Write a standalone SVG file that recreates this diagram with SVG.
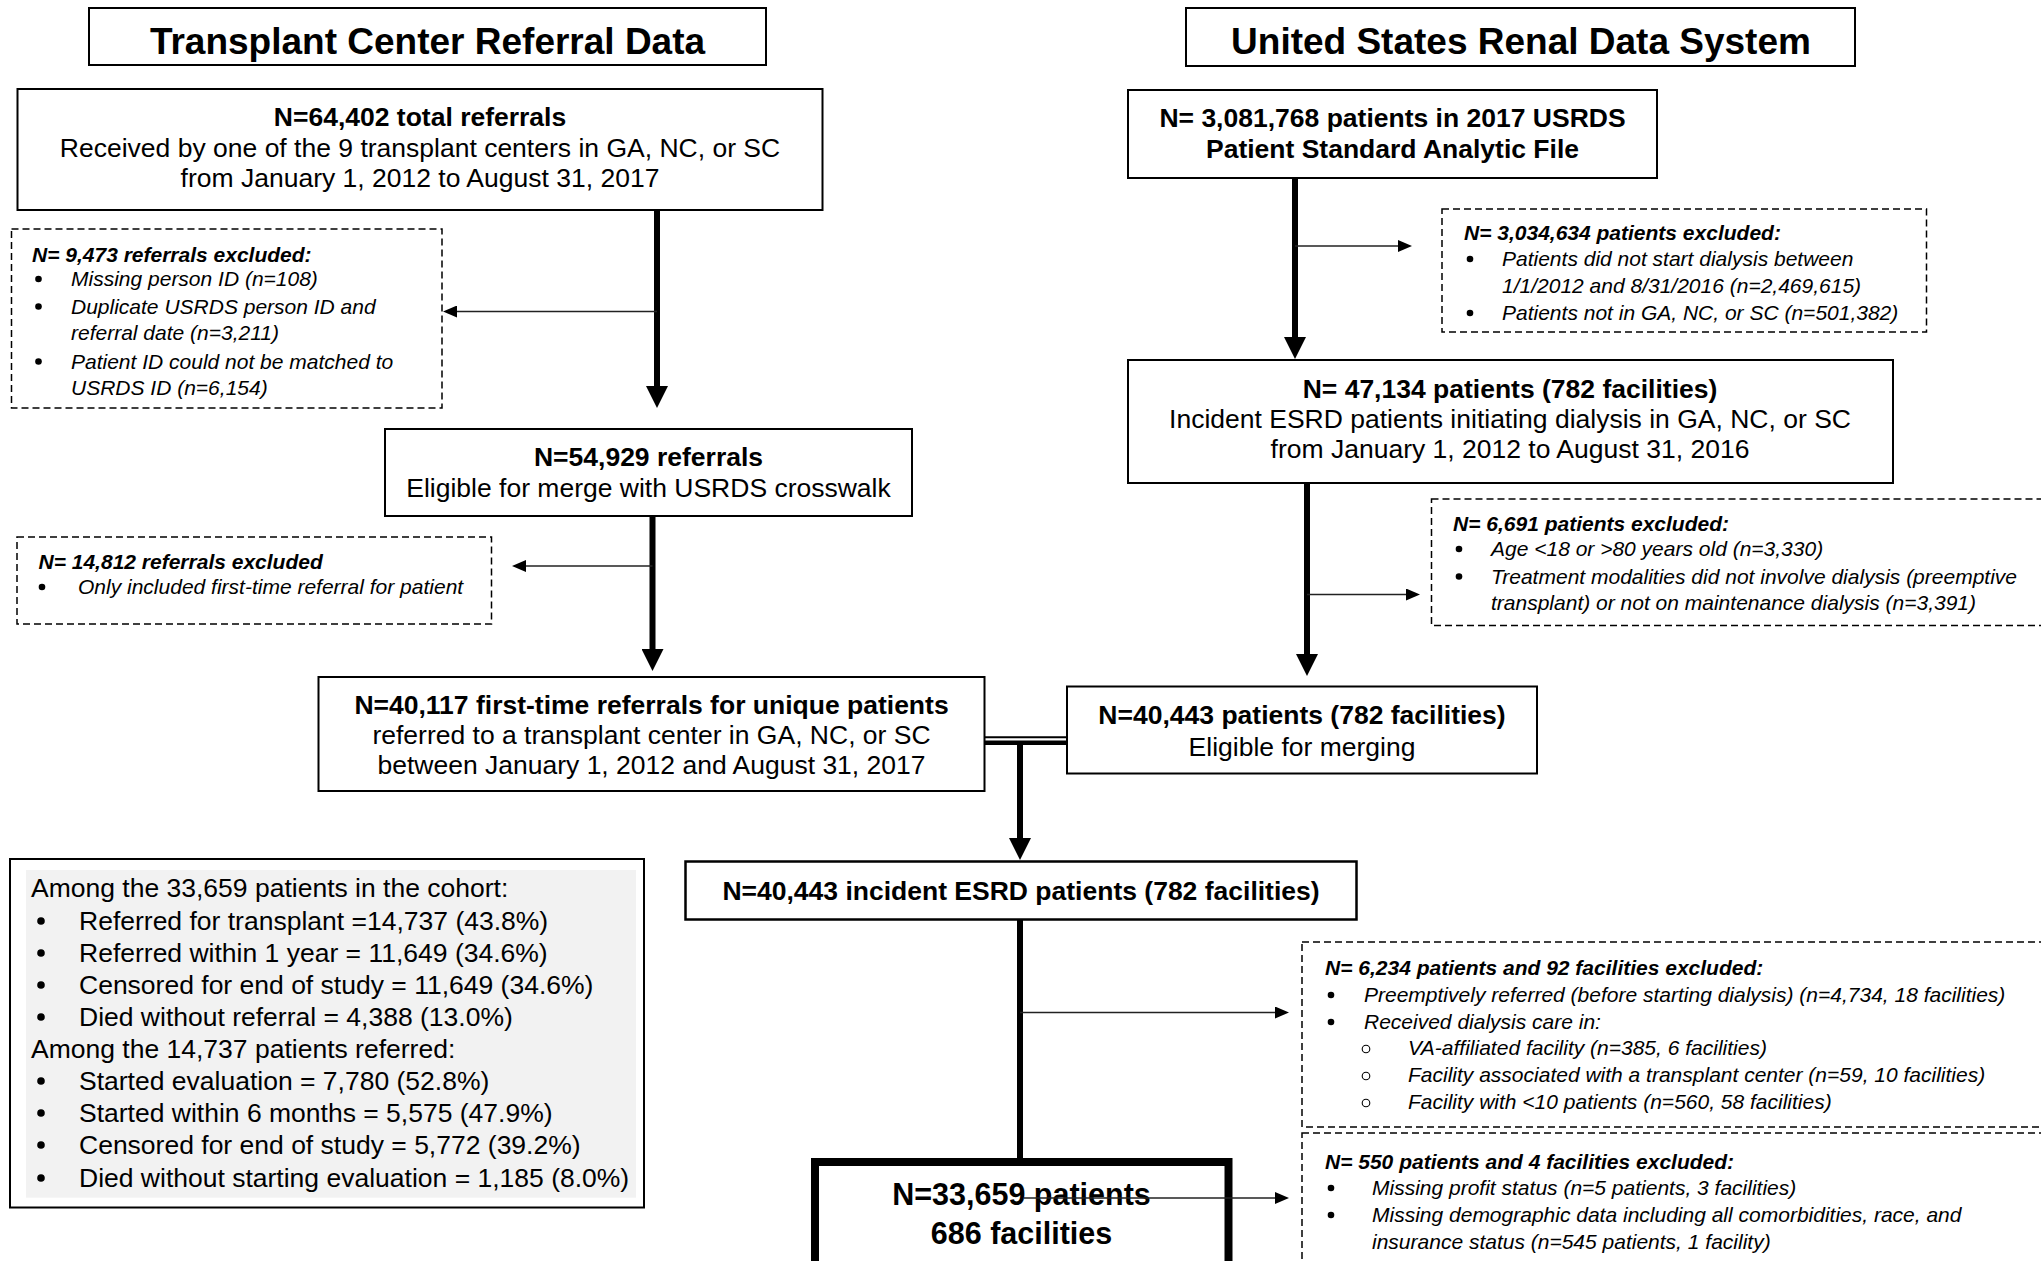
<svg xmlns="http://www.w3.org/2000/svg" width="2041" height="1261" viewBox="0 0 2041 1261">
<style>
text{font-family:"Liberation Sans",Arial,sans-serif;fill:#000}
.h{font-size:37px;font-weight:bold;text-anchor:middle}
.m{font-size:26.5px;text-anchor:middle}
.mb{font-size:26.5px;font-weight:bold;text-anchor:middle}
.fin{font-size:30.5px;font-weight:bold;text-anchor:middle}
.ex{font-size:21px;font-style:italic}
.exh{font-size:21px;font-style:italic;font-weight:bold}
.gr{font-size:26.5px}
.dot{fill:#000}
.ring{fill:none;stroke:#000;stroke-width:1.1}
.box{fill:#fff;stroke:#000;stroke-width:2}
.dash{fill:#fff;stroke:#000;stroke-width:1.5;stroke-dasharray:7 4}
.thick{fill:none;stroke:#000;stroke-width:6}
.thin{fill:none;stroke:#222;stroke-width:1.6}
</style>
<defs>
<marker id="ah" markerUnits="userSpaceOnUse" markerWidth="22" markerHeight="22" viewBox="0 0 22 22" refX="4" refY="11" orient="auto"><path d="M0,0 L22,11 L0,22 z" fill="#000"/></marker>
<marker id="as" markerUnits="userSpaceOnUse" markerWidth="14" markerHeight="12" viewBox="0 0 14 12" refX="2" refY="6" orient="auto"><path d="M0,0 L14,6 L0,12 z" fill="#000"/></marker>
</defs>

<g id="title-left"><rect class="box" x="89" y="8" width="677" height="57"/><text class="h" x="427.5" y="54">Transplant Center Referral Data</text></g>
<g id="title-right"><rect class="box" x="1186" y="8" width="669" height="58"/><text class="h" x="1521" y="54">United States Renal Data System</text></g>

<g id="box-total-referrals"><rect class="box" x="17.5" y="89" width="805" height="121"/>
<text class="mb" x="420" y="126">N=64,402 total referrals</text>
<text class="m" x="420" y="157">Received by one of the 9 transplant centers in GA, NC, or SC</text>
<text class="m" x="420" y="187">from January 1, 2012 to August 31, 2017</text></g>

<g id="excl-referrals-1"><rect class="dash" x="11.5" y="229" width="430.5" height="179"/>
<text class="exh" x="32" y="262">N= 9,473 referrals excluded:</text>
<circle class="dot" cx="38.5" cy="279" r="3.3"/><text class="ex" x="71" y="286">Missing person ID (n=108)</text>
<circle class="dot" cx="38.5" cy="306.5" r="3.3"/><text class="ex" x="71" y="313.5">Duplicate USRDS person ID and</text>
<text class="ex" x="71" y="340">referral date (n=3,211)</text>
<circle class="dot" cx="38.5" cy="361.5" r="3.3"/><text class="ex" x="71" y="368.5">Patient ID could not be matched to</text>
<text class="ex" x="71" y="395">USRDS ID (n=6,154)</text></g>

<g id="box-eligible-merge"><rect class="box" x="385" y="429" width="527" height="87"/>
<text class="mb" x="648.5" y="466">N=54,929 referrals</text>
<text class="m" x="648.5" y="497">Eligible for merge with USRDS crosswalk</text></g>

<g id="excl-referrals-2"><rect class="dash" x="17" y="537" width="474.5" height="87"/>
<text class="exh" x="38.5" y="568.5">N= 14,812 referrals excluded</text>
<circle class="dot" cx="42" cy="587" r="3.3"/><text class="ex" x="78" y="594">Only included first-time referral for patient</text></g>

<g id="box-first-time"><rect class="box" x="318.5" y="677" width="666" height="114"/>
<text class="mb" x="651.5" y="714">N=40,117 first-time referrals for unique patients</text>
<text class="m" x="651.5" y="744">referred to a transplant center in GA, NC, or SC</text>
<text class="m" x="651.5" y="774">between January 1, 2012 and August 31, 2017</text></g>

<g id="box-usrds"><rect class="box" x="1128" y="90" width="529" height="88"/>
<text class="mb" x="1392.5" y="126.5">N= 3,081,768 patients in 2017 USRDS</text>
<text class="mb" x="1392.5" y="157.5">Patient Standard Analytic File</text></g>

<g id="excl-usrds-1"><rect class="dash" x="1442" y="209" width="484.5" height="123"/>
<text class="exh" x="1464" y="240">N= 3,034,634 patients excluded:</text>
<circle class="dot" cx="1470" cy="259" r="3.3"/><text class="ex" x="1502" y="266">Patients did not start dialysis between</text>
<text class="ex" x="1502" y="293">1/1/2012 and 8/31/2016 (n=2,469,615)</text>
<circle class="dot" cx="1470" cy="313" r="3.3"/><text class="ex" x="1502" y="320">Patients not in GA, NC, or SC (n=501,382)</text></g>

<g id="box-incident"><rect class="box" x="1128" y="360" width="765" height="123"/>
<text class="mb" x="1510" y="397.5">N= 47,134 patients (782 facilities)</text>
<text class="m" x="1510" y="428">Incident ESRD patients initiating dialysis in GA, NC, or SC</text>
<text class="m" x="1510" y="458">from January 1, 2012 to August 31, 2016</text></g>

<g id="excl-usrds-2"><rect class="dash" x="1431.5" y="499" width="640" height="126.5"/>
<text class="exh" x="1453" y="531">N= 6,691 patients excluded:</text>
<circle class="dot" cx="1459" cy="549" r="3.3"/><text class="ex" x="1491" y="556">Age &lt;18 or &gt;80 years old (n=3,330)</text>
<circle class="dot" cx="1459" cy="576.5" r="3.3"/><text class="ex" x="1491" y="583.5">Treatment modalities did not involve dialysis (preemptive</text>
<text class="ex" x="1491" y="610">transplant) or not on maintenance dialysis (n=3,391)</text></g>

<g id="box-eligible-merging"><rect class="box" x="1067" y="686.5" width="470" height="87"/>
<text class="mb" x="1302" y="724">N=40,443 patients (782 facilities)</text>
<text class="m" x="1302" y="755.5">Eligible for merging</text></g>

<g id="box-incident-esrd"><rect class="box" x="685.5" y="861.5" width="671" height="58" style="stroke-width:2.5"/>
<text class="mb" x="1021" y="900">N=40,443 incident ESRD patients (782 facilities)</text></g>

<g id="box-final"><rect x="815" y="1162" width="413.5" height="130" fill="#fff" stroke="#000" stroke-width="8"/>
<text class="fin" x="1021.5" y="1205">N=33,659 patients</text>
<text class="fin" x="1021.5" y="1244">686 facilities</text></g>

<g id="excl-facilities-1"><rect class="dash" x="1302" y="942" width="760" height="185"/>
<text class="exh" x="1325" y="975">N= 6,234 patients and 92 facilities excluded:</text>
<circle class="dot" cx="1331" cy="995" r="3.3"/><text class="ex" x="1364" y="1002">Preemptively referred (before starting dialysis) (n=4,734, 18 facilities)</text>
<circle class="dot" cx="1331" cy="1022" r="3.3"/><text class="ex" x="1364" y="1029">Received dialysis care in:</text>
<circle class="ring" cx="1366" cy="1049" r="3.8"/><text class="ex" x="1408" y="1055">VA-affiliated facility (n=385, 6 facilities)</text>
<circle class="ring" cx="1366" cy="1076" r="3.8"/><text class="ex" x="1408" y="1082">Facility associated with a transplant center (n=59, 10 facilities)</text>
<circle class="ring" cx="1366" cy="1103" r="3.8"/><text class="ex" x="1408" y="1109">Facility with &lt;10 patients (n=560, 58 facilities)</text></g>

<g id="excl-facilities-2"><rect class="dash" x="1302" y="1133" width="760" height="150"/>
<text class="exh" x="1325" y="1169">N= 550 patients and 4 facilities excluded:</text>
<circle class="dot" cx="1331" cy="1188" r="3.3"/><text class="ex" x="1372" y="1195">Missing profit status (n=5 patients, 3 facilities)</text>
<circle class="dot" cx="1331" cy="1215" r="3.3"/><text class="ex" x="1372" y="1222">Missing demographic data including all comorbidities, race, and</text>
<text class="ex" x="1372" y="1249">insurance status (n=545 patients, 1 facility)</text></g>

<g id="cohort-summary"><rect class="box" x="10" y="859" width="634" height="348.5"/>
<rect x="26" y="870" width="610" height="327.7" fill="#f2f2f2"/>
<text class="gr" x="31" y="897">Among the 33,659 patients in the cohort:</text>
<circle class="dot" cx="41" cy="921" r="3.8"/><text class="gr" x="79" y="930">Referred for transplant =14,737 (43.8%)</text>
<circle class="dot" cx="41" cy="953" r="3.8"/><text class="gr" x="79" y="962">Referred within 1 year = 11,649 (34.6%)</text>
<circle class="dot" cx="41" cy="985" r="3.8"/><text class="gr" x="79" y="994">Censored for end of study = 11,649 (34.6%)</text>
<circle class="dot" cx="41" cy="1017" r="3.8"/><text class="gr" x="79" y="1026">Died without referral = 4,388 (13.0%)</text>
<text class="gr" x="31" y="1057.5">Among the 14,737 patients referred:</text>
<circle class="dot" cx="41" cy="1081" r="3.8"/><text class="gr" x="79" y="1090">Started evaluation = 7,780 (52.8%)</text>
<circle class="dot" cx="41" cy="1113" r="3.8"/><text class="gr" x="79" y="1122">Started within 6 months = 5,575 (47.9%)</text>
<circle class="dot" cx="41" cy="1145" r="3.8"/><text class="gr" x="79" y="1154">Censored for end of study = 5,772 (39.2%)</text>
<circle class="dot" cx="41" cy="1178" r="3.8"/><text class="gr" x="79" y="1187">Died without starting evaluation = 1,185 (8.0%)</text></g>

<g id="connectors">
<path class="thick" d="M657,210 V390" marker-end="url(#ah)"/>
<path class="thick" d="M652.5,516 V653" marker-end="url(#ah)"/>
<path class="thick" d="M1295,178 V341" marker-end="url(#ah)"/>
<path class="thick" d="M1307,483 V658" marker-end="url(#ah)"/>
<path d="M985,737.3 H1067" fill="none" stroke="#000" stroke-width="2"/>
<path d="M985,742.8 H1067" fill="none" stroke="#000" stroke-width="4.5"/>
<path class="thick" d="M1020,745 V842" marker-end="url(#ah)"/>
<path class="thick" d="M1020,920 V1158"/>
<path class="thin" d="M657,311.5 H455" marker-end="url(#as)"/>
<path class="thin" d="M652.5,566 H524" marker-end="url(#as)"/>
<path class="thin" d="M1295,246 H1400" marker-end="url(#as)"/>
<path class="thin" d="M1307,594.5 H1408" marker-end="url(#as)"/>
<path class="thin" d="M1020,1012.5 H1277" marker-end="url(#as)"/>
<path class="thin" d="M1024,1198 H1277" marker-end="url(#as)"/>
</g>
</svg>
